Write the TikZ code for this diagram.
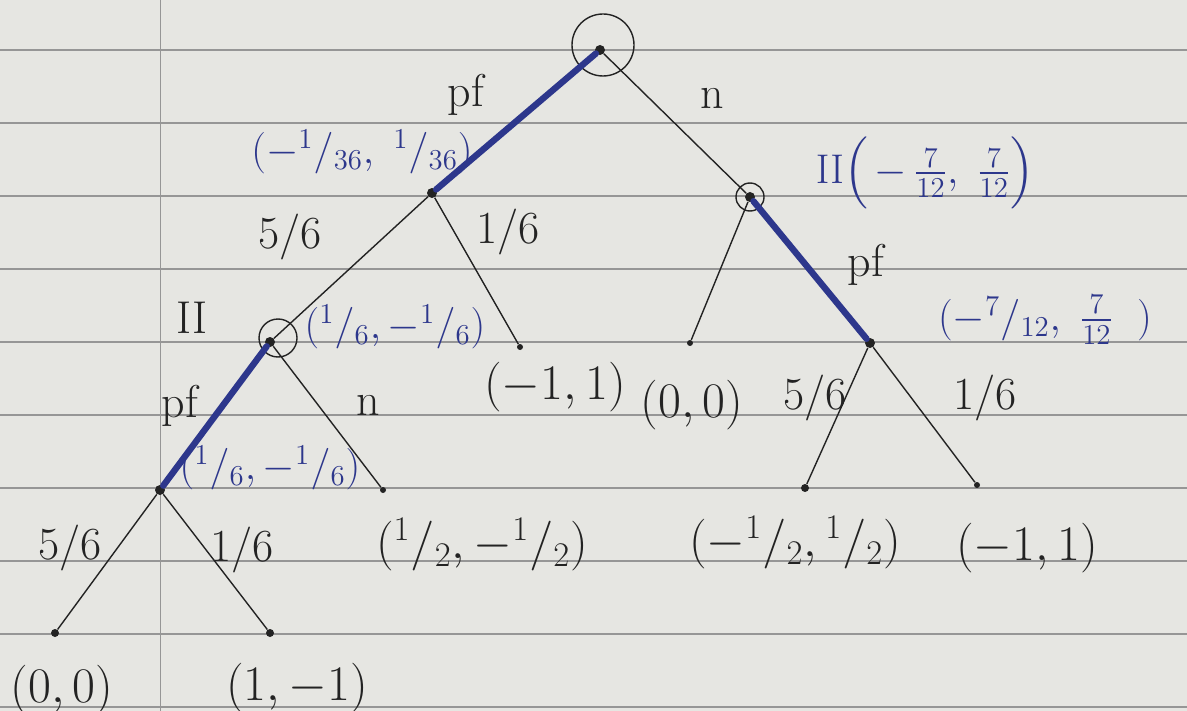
\documentclass[tikz,border=0pt]{standalone}
\usepackage{amsmath,amssymb}
\usepackage{xcolor}
\usepackage{tikz}
\usetikzlibrary{positioning,calc}
\definecolor{paper}{RGB}{230,230,226}
\definecolor{rule}{RGB}{150,150,150}
\definecolor{ink}{RGB}{35,35,35}
\definecolor{blueink}{RGB}{45,55,140}
\newcommand{\hfr}[2]{{}^{#1}{/}{}_{#2}}
\begin{document}
\begin{tikzpicture}[x=0.5pt,y=-0.5pt,font=\fontsize{23}{27}\selectfont,
  edge/.style={draw=ink,line width=0.7pt},
  best/.style={draw=blueink,line width=3.2pt,line cap=round},
  dot/.style={circle,fill=ink,inner sep=0pt,minimum size=5pt},
  ring/.style={draw=ink,circle,line width=0.7pt,inner sep=0pt},
  lbl/.style={text=ink,inner sep=1pt},
  pay/.style={text=blueink,inner sep=1pt,font=\fontsize{20}{24}\selectfont}]
\useasboundingbox (0,0) rectangle (1187,711);
\fill[paper] (0,0) rectangle (1187,711);
% ruled paper
\foreach \y in {50,123,196,269,342,415,488,561,634,707}
  \draw[rule,line width=0.6pt] (0,\y) -- (1187,\y);
\draw[rule,line width=0.5pt] (160,0) -- (160,711);
% decision and chance nodes
\node[dot] (root) at (600,50) {};
\node[dot] (chA) at (432,193) {};
\node[dot] (pB) at (750,197) {};
\node[dot] (pC) at (270,342) {};
\node[dot] (chD) at (160,490) {};
\node[dot] (chE) at (870,343) {};
% leaves
\node[dot,minimum size=3pt] (lfA) at (520,347) {};
\node[dot,minimum size=3pt] (lfB) at (690,343) {};
\node[dot,minimum size=3pt] (lfC) at (383,490) {};
\node[dot,minimum size=4pt] (lfD1) at (55,633) {};
\node[dot,minimum size=4pt] (lfD2) at (270,633) {};
\node[dot,minimum size=4pt] (lfE1) at (805,488) {};
\node[dot,minimum size=3pt] (lfE2) at (977,485) {};
% rings round the player nodes
\node[ring,minimum size=31pt] (rootring) at (603,45) {};
\node[ring,minimum size=14pt] (pBring) at (750,197) {};
\node[ring,minimum size=19pt] (pCring) at (278,338) {};
% edges
\draw[best] (root) -- (chA);
\draw[edge] (root) -- (pB);
\draw[edge] (chA) -- (pC);
\draw[edge] (chA) -- (lfA);
\draw[best] (pC) -- (chD);
\draw[edge] (pC) -- (lfC);
\draw[edge] (chD) -- (lfD1);
\draw[edge] (chD) -- (lfD2);
\draw[edge] (pB) -- (lfB);
\draw[best] (pB) -- (chE);
\draw[edge] (chE) -- (lfE1);
\draw[edge] (chE) -- (lfE2);
% move labels
\node[lbl] (mv1) at (466,95) {pf};
\node[lbl] (mv2) at (712,98) {n};
\node[lbl] (mv3) at (866,265) {pf};
\node[lbl] (mv4) at (180,406) {pf};
\node[lbl] (mv5) at (368,405) {n};
\node[lbl] (plC) at (192,318) {II};
% chance labels
\node[lbl] (pr1) at (290,237) {5/6};
\node[lbl] (pr2) at (508,232) {1/6};
\node[lbl] (pr3) at (815,398) {5/6};
\node[lbl] (pr4) at (985,398) {1/6};
\node[lbl] (pr5) at (70,548) {5/6};
\node[lbl] (pr6) at (242,550) {1/6};
% backed-up values
\node[pay] (vA) at (362,152) {$(-\hfr{1}{36},\ \hfr{1}{36})$};
\node[pay] (vB) at (925,173) {$\mathrm{II}\Bigl(\,-\,\frac{7}{12},\ \frac{7}{12}\Bigr)$};
\node[pay] (vC) at (395,327) {$(\hfr{1}{6},-\hfr{1}{6})$};
\node[pay] (vD) at (270,468) {$(\hfr{1}{6},-\hfr{1}{6})$};
\node[pay] (vE) at (1045,320) {$(-\hfr{7}{12},\ \frac{7}{12}\ \ )$};
% payoffs at the leaves
\node[lbl] (pA) at (555,387) {$(-1,1)$};
\node[lbl] (pB0) at (692,405) {$(0,0)$};
\node[lbl] (pC0) at (482,545) {$(\hfr{1}{2},-\hfr{1}{2})$};
\node[lbl] (pE1) at (795,543) {$(-\hfr{1}{2},\hfr{1}{2})$};
\node[lbl] (pE2) at (1027,548) {$(-1,1)$};
\node[lbl] (pD1) at (62,690) {$(0,0)$};
\node[lbl] (pD2) at (297,688) {$(1,-1)$};
\end{tikzpicture}
\end{document}
